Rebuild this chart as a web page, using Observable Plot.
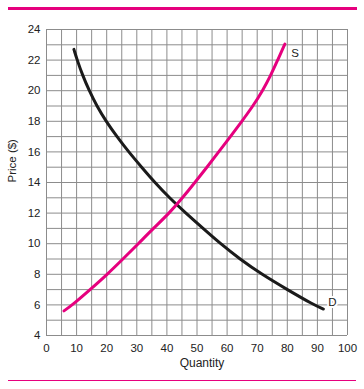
<!DOCTYPE html>
<html>
<head>
<meta charset="utf-8">
<script src="https://cdn.jsdelivr.net/npm/d3@7"></script>
<script src="https://cdn.jsdelivr.net/npm/@observablehq/plot@0.6"></script>
<style>
  html, body { margin: 0; padding: 0; background: #fff; }
  #wrap { position: relative; width: 364px; height: 389px; overflow: hidden; }
  #topbar { position: absolute; left: 8px; top: 7px; width: 349px; height: 3px; background: #e6007e; }
  #botline { position: absolute; left: 8px; top: 380px; width: 348px; height: 1px; background: #e6007e; }
  #chart { position: absolute; left: 0; top: 0; }
</style>
</head>
<body>
<div id="wrap">
  <div id="chart"></div>
  <div id="topbar"></div>
  <div id="botline"></div>
</div>
<script>
// Demand curve (Quantity, Price)
const demandQ = [9.1, 10.2, 12.0, 14.2, 16.7, 19.8, 23.4, 27.3, 31.6, 36.0, 40.8, 46.3, 52.0, 57.8, 64.2, 71.5, 80.0, 88.8, 92.0];
const demandP = [22.7, 22, 21, 20, 19, 18, 17, 16, 15, 14, 13, 12, 11, 10, 9, 8, 7, 6, 5.73];
// Supply curve (Quantity, Price)
const supplyQ = [5.8, 8.6, 14.5, 20.2, 25.4, 30.5, 35.5, 40.8, 45.2, 49.3, 53.3, 57.2, 61.1, 64.9, 68.6, 71.8, 74.5, 76.8, 79.2];
const supplyP = [5.61, 6, 7, 8, 9, 10, 11, 12, 13, 14, 15, 16, 17, 18, 19, 20, 21, 22, 23.05];
// Curve labels
const curveLabels = ["S", "D"];
const labelQ = [81.3, 93.6];
const labelP = [22.45, 6.15];
// Axis ticks and grid
const xTicks = [0, 10, 20, 30, 40, 50, 60, 70, 80, 90, 100];
const yTicks = [4, 6, 8, 10, 12, 14, 16, 18, 20, 22, 24];
const gridX = [0, 5, 10, 15, 20, 25, 30, 35, 40, 45, 50, 55, 60, 65, 70, 75, 80, 85, 90, 95, 100];
const gridY = [4, 5, 6, 7, 8, 9, 10, 11, 12, 13, 14, 15, 16, 17, 18, 19, 20, 21, 22, 23, 24];
const xLabel = "Quantity";
const yLabel = "Price ($)";

const demand = demandQ.map((q, i) => ({q, p: demandP[i]}));
const supply = supplyQ.map((q, i) => ({q, p: supplyP[i]}));
const labels = curveLabels.map((t, i) => ({t, q: labelQ[i], p: labelP[i]}));

const gridColor = "#8c8c8c";
const font = "'Liberation Sans', Arial, Helvetica, sans-serif";

const chart = Plot.plot({
  width: 364,
  height: 389,
  marginLeft: 46,
  marginRight: 17,
  marginTop: 29,
  marginBottom: 54,
  x: {domain: [0, 100]},
  y: {domain: [4, 24]},
  style: {fontFamily: font, fontSize: "11.5px", color: "#222", background: "transparent"},
  marks: [
    Plot.ruleX(gridX, {stroke: gridColor, strokeWidth: 1}),
    Plot.ruleY(gridY, {stroke: gridColor, strokeWidth: 1}),
    Plot.axisX({ticks: xTicks, tickSize: 0, tickPadding: 8, label: null, fontSize: 11.5}),
    Plot.axisY({ticks: yTicks, tickSize: 0, tickPadding: 6, label: null, fontSize: 11.5}),
    Plot.line(demand, {x: "q", y: "p", stroke: "#1a1a1a", strokeWidth: 3, curve: "basis"}),
    Plot.line(supply, {x: "q", y: "p", stroke: "#e6007e", strokeWidth: 3, curve: "basis"}),
    Plot.text(labels, {x: "q", y: "p", text: "t", textAnchor: "start", fill: "#222", stroke: "white", strokeWidth: 4, fontSize: 11.5}),
    Plot.text([xLabel], {frameAnchor: "bottom", dx: 5, dy: 31, fill: "#222", fontSize: 12}),
    Plot.text([yLabel], {frameAnchor: "left", rotate: -90, dx: -34, fill: "#222", fontSize: 11.5})
  ]
});
document.getElementById("chart").appendChild(chart);
</script>
</body>
</html>
